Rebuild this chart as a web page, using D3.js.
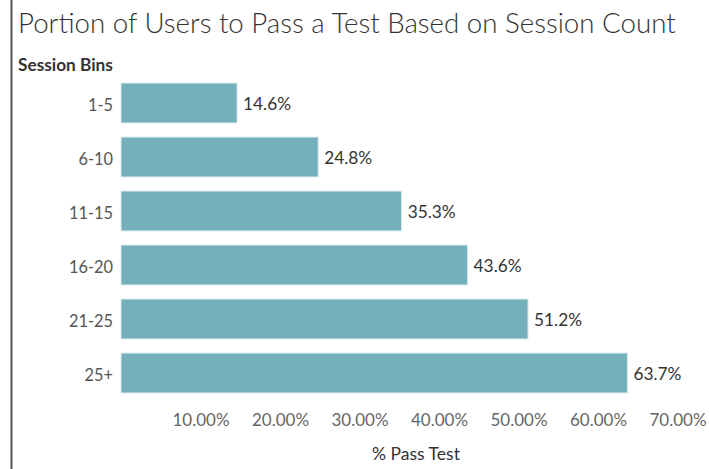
<!DOCTYPE html>
<html><head><meta charset="utf-8">
<script src="https://cdn.jsdelivr.net/npm/d3@7"></script>
<style>body{margin:0;background:#fff;} text{font-family:Lato, "Open Sans", sans-serif;}</style>
</head><body>
<svg id="c" width="709" height="469"></svg>
<script>
const categories = ["1-5","6-10","11-15","16-20","21-25","25+"];
const values = [0.146,0.248,0.353,0.436,0.512,0.637];
const valueLabels = ["14.6%","24.8%","35.3%","43.6%","51.2%","63.7%"];
const tickValues = [0.1,0.2,0.3,0.4,0.5,0.6,0.7];
const tickLabels = ["10.00%","20.00%","30.00%","40.00%","50.00%","60.00%","70.00%"];

const svg = d3.select("#c");
svg.append("line").attr("x1",11.5).attr("x2",11.5).attr("y1",0).attr("y2",469)
  .attr("stroke","#555").attr("stroke-width",2);

// size a group of texts so that a given node matches a target width
function fitGroup(sel, node, w){
  const l = node.getComputedTextLength();
  const fs = parseFloat(d3.select(node).attr("font-size"));
  sel.attr("font-size", fs*w/l);
}

const title = svg.append("text").attr("x",18).attr("y",33).attr("font-size",24)
  .attr("font-weight",300).attr("fill","#333").text("Portion of Users to Pass a Test Based on Session Count");
fitGroup(title, title.node(), 658);

const sb = svg.append("text").attr("x",18).attr("y",71).attr("font-size",13)
  .attr("fill","#333").attr("font-weight","bold").text("Session Bins");
fitGroup(sb, sb.node(), 95);

const x = d3.scaleLinear().domain([0,0.7]).range([121,677.5]);
const y = d3.scaleBand().domain(categories).range([76,400]).paddingInner(0.26).paddingOuter(0.13);

svg.append("g").selectAll("rect").data(categories).join("rect")
  .attr("x",x(0)).attr("y",d=>y(d))
  .attr("width",(d,i)=>x(values[i])-x(0)).attr("height",y.bandwidth())
  .attr("fill","#74afbc").attr("stroke","#dcebef").attr("stroke-width",1);

const cat = svg.append("g").selectAll("text").data(categories).join("text")
  .attr("x",113).attr("y",d=>y(d)+y.bandwidth()/2+8).attr("text-anchor","end")
  .attr("font-size",14).attr("fill","#555").text(d=>d);
fitGroup(cat, cat.nodes()[2], 44);

const vl = svg.append("g").selectAll("text").data(categories).join("text")
  .attr("x",(d,i)=>x(values[i])+6).attr("y",d=>y(d)+y.bandwidth()/2+7)
  .attr("font-size",14).attr("fill","#333").text((d,i)=>valueLabels[i]);
fitGroup(vl, vl.nodes()[0], 48);

const ax = d3.axisBottom(x).tickValues(tickValues).tickFormat((d,i)=>tickLabels[i]).tickSize(0).tickPadding(0);
const g = svg.append("g").attr("transform","translate(0,426)").call(ax);
g.select(".domain").remove();
const tl = g.selectAll("text").attr("y",0).attr("dy",0).attr("font-size",14).attr("fill","#666")
  .style("font-family","Lato, 'Open Sans', sans-serif");
fitGroup(tl, tl.nodes()[0], 57);

const xt = svg.append("text").attr("x",416).attr("y",460).attr("text-anchor","middle")
  .attr("font-size",14).attr("fill","#333").text("% Pass Test");
fitGroup(xt, xt.node(), 88);
</script>
</body></html>
